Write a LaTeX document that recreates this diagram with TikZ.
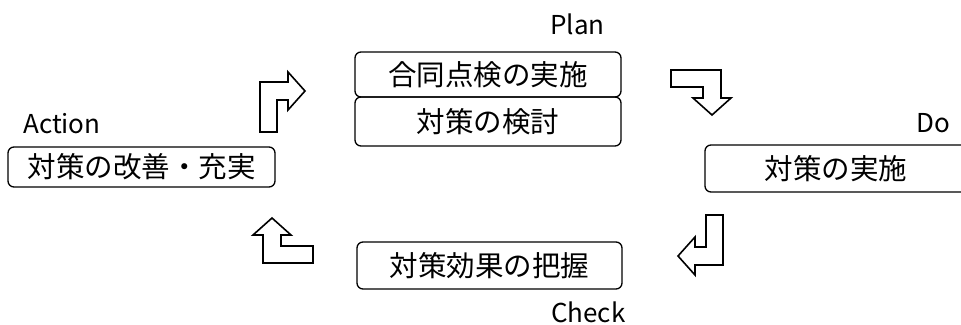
\documentclass[tikz,border=0pt]{standalone}
\usepackage{fontspec}
\setmainfont{Noto Sans CJK JP}
\usepackage{tikz}
\usetikzlibrary{positioning}

\tikzset{
  bentarrow/.pic={
    \draw[turn] (0,0) -- (0,-50) -- (28,-50) -- (28,-60) -- (45,-41)
      -- (28,-22) -- (28,-32) -- (17,-32) -- (17,0) -- cycle;
  }
}

\begin{document}
\begin{tikzpicture}[x=1pt,y=-1pt,
        phase/.style={rectangle,draw=black,rounded corners=6pt,line width=1.3pt,
          inner sep=0pt,minimum width=266pt,font=\fontsize{28.5}{32}\selectfont},
        tag/.style={anchor=west,inner sep=0pt,font=\fontsize{26}{30}\selectfont},
        turn/.style={draw=black,line width=1.6pt,line join=miter,fill=white}]
      \useasboundingbox (0,0) rectangle (961,324);
      % Plan
      \node (plan) at (550,24) [tag] {Plan};
      \node (inspect) at (488,74.5) [phase,minimum height=45pt] {合同点検の実施};
      \node (review) at (488,121.5) [phase,minimum height=49pt] {対策の検討};
      % Do
      \node (do) at (916,123) [tag] {Do};
      \node (carry) at (836,168.5) [phase,minimum width=262pt,minimum height=47pt] {対策の実施};
      % Check
      \node (check) at (551,312) [tag] {Check};
      \node (grasp) at (489.5,265.5) [phase,minimum width=265pt,minimum height=47pt] {対策効果の把握};
      % Action
      \node (action) at (23,124) [tag] {Action};
      \node (improve) at (141.5,167) [phase,minimum width=267pt,minimum height=40pt] {対策の改善・充実};
      % turning arrows
      \coordinate (toplan) at (260,132);
      \coordinate (todo) at (671,70);
      \coordinate (tocheck) at (723,215);
      \coordinate (toaction) at (313,263);
      \pic at (toplan) {bentarrow};
      \pic[rotate=-90] at (todo) {bentarrow};
      \pic[rotate=180] at (tocheck) {bentarrow};
      \pic[rotate=90] at (toaction) {bentarrow};
    \end{tikzpicture}
\end{document}
